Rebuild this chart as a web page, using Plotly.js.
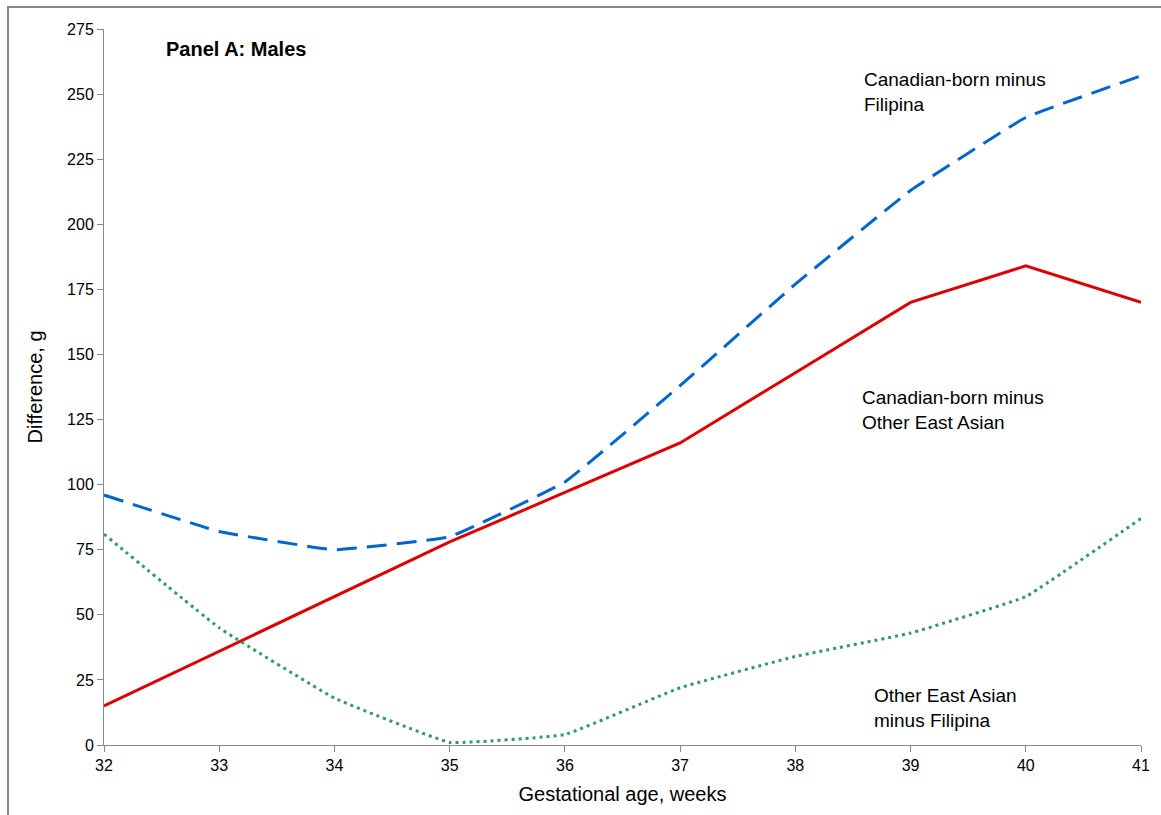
<!DOCTYPE html>
<html>
<head>
<meta charset="utf-8">
<script src="https://cdn.plot.ly/plotly-3.0.1.min.js"></script>
<style>html,body{margin:0;padding:0;background:#fff;}#chart{width:1161px;height:815px;}</style>
</head>
<body>
<div id="chart"></div>
<script>
const weeks = [32, 33, 34, 35, 36, 37, 38, 39, 40, 41];
const canadianMinusFilipina = [96, 82, 75, 80, 101, 138, 177, 213, 241, 257];
const canadianMinusOtherEastAsian = [15, 36, 57, 78, 97, 116, 143, 170, 184, 170];
const otherEastAsianMinusFilipina = [81, 45, 18, 1, 4, 22, 34, 43, 57, 87];
const yTicks = [0, 25, 50, 75, 100, 125, 150, 175, 200, 225, 250, 275];

const FAM = 'Liberation Sans, Arial, sans-serif';

const traces = [
  {x: weeks, y: canadianMinusFilipina, mode: 'lines', name: 'Canadian-born minus Filipina',
   line: {color: '#0066CC', width: 3, dash: '20px,10px', shape: 'spline', smoothing: 0.25}},
  {x: weeks, y: canadianMinusOtherEastAsian, mode: 'lines', name: 'Canadian-born minus Other East Asian',
   line: {color: '#DD0000', width: 3}},
  {x: weeks, y: otherEastAsianMinusFilipina, mode: 'lines', name: 'Other East Asian minus Filipina',
   line: {color: '#339966', width: 3, dash: '3px,4px', shape: 'spline', smoothing: 0.25}}
];

const layout = {
  width: 1161, height: 815,
  margin: {l: 104, r: 20, t: 29, b: 70},
  paper_bgcolor: '#fff', plot_bgcolor: '#fff',
  showlegend: false,
  font: {family: FAM, size: 16, color: '#000'},
  xaxis: {
    range: [32, 41], tickvals: weeks, ticktext: weeks.map(String),
    showgrid: false, zeroline: false, showline: true, linecolor: '#888888', linewidth: 1,
    ticks: 'outside', ticklen: 6, tickcolor: '#888888',
    tickfont: {family: FAM, size: 16, color: '#000'},
    title: {text: 'Gestational age, weeks', font: {family: FAM, size: 20, color: '#000'}, standoff: 13}
  },
  yaxis: {
    range: [0, 275], tickvals: yTicks, ticktext: yTicks.map(String),
    showgrid: false, zeroline: false, showline: true, linecolor: '#888888', linewidth: 1,
    ticks: 'outside', ticklen: 6, tickcolor: '#888888',
    tickfont: {family: FAM, size: 16, color: '#000'},
    title: {text: 'Difference, g', font: {family: FAM, size: 20, color: '#000'}, standoff: 19}
  },
  annotations: [
    {xref: 'paper', yref: 'paper', x: 0.058, y: 0.972, xanchor: 'left', yanchor: 'middle', showarrow: false,
     text: '<b>Panel A: Males</b>', font: {family: FAM, size: 20, color: '#000'}},
    {xref: 'paper', yref: 'paper', x: 0.731, y: 0.912, xanchor: 'left', yanchor: 'middle', showarrow: false, align: 'left',
     text: 'Canadian-born minus<br>Filipina', font: {family: FAM, size: 19, color: '#000'}},
    {xref: 'paper', yref: 'paper', x: 0.729, y: 0.468, xanchor: 'left', yanchor: 'middle', showarrow: false, align: 'left',
     text: 'Canadian-born minus<br>Other East Asian', font: {family: FAM, size: 19, color: '#000'}},
    {xref: 'paper', yref: 'paper', x: 0.741, y: 0.052, xanchor: 'left', yanchor: 'middle', showarrow: false, align: 'left',
     text: 'Other East Asian<br>minus Filipina', font: {family: FAM, size: 19, color: '#000'}}
  ],
  shapes: [
    {type: 'rect', xref: 'paper', yref: 'paper', x0: -0.0926, x1: 1.2, y0: -0.3, y1: 1.0307,
     line: {color: '#888888', width: 2}, fillcolor: 'rgba(0,0,0,0)', layer: 'below'}
  ]
};

Plotly.newPlot('chart', traces, layout, {displayModeBar: false, staticPlot: true});
</script>
</body>
</html>
